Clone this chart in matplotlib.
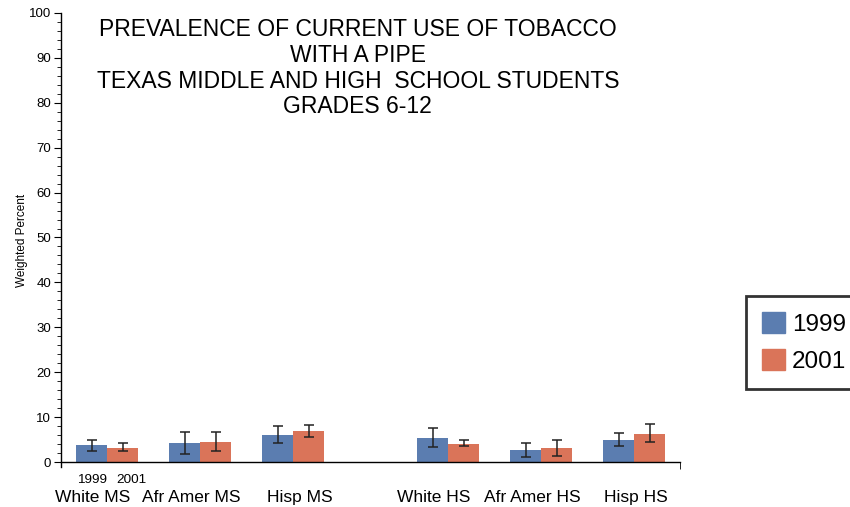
import matplotlib.pyplot as plt
from matplotlib.patches import Patch
import numpy as np

plt.rcParams['font.family'] = ['Liberation Sans', 'DejaVu Sans']

# データ
groups = ['White MS', 'Afr Amer MS', 'Hisp MS', 'White HS', 'Afr Amer HS', 'Hisp HS']
years = ['1999', '2001']
val_1999 = [3.8, 4.2, 6.0, 5.3, 2.7, 4.9]
lo_1999 = [2.5, 1.8, 4.3, 3.3, 1.1, 3.6]
hi_1999 = [5.0, 6.7, 8.1, 7.6, 4.2, 6.4]
val_2001 = [3.1, 4.5, 6.9, 4.1, 3.1, 6.3]
lo_2001 = [2.4, 2.4, 5.5, 3.5, 1.3, 4.5]
hi_2001 = [4.2, 6.7, 8.2, 4.9, 5.0, 8.4]

title = ('PREVALENCE OF CURRENT USE OF TOBACCO\nWITH A PIPE\n'
         'TEXAS MIDDLE AND HIGH  SCHOOL STUDENTS\nGRADES 6-12')

BLUE = '#5b7db0'
ORANGE = '#da7459'

# MSとHSの間を広げる
xpos = np.array([0, 1, 2, 3.667, 4.667, 5.667])
w = 0.333
# ラベルは棒の中心から少しずれている
label_shift = [-0.16, -0.09, 0.07, -0.16, -0.10, 0.02]

fig = plt.figure(figsize=(8.5, 5.07), dpi=100)
ax = fig.add_axes([0.0718, 0.0781, 0.8 - 0.0718, 0.9744 - 0.0781])

v1 = np.array(val_1999)
v2 = np.array(val_2001)
err1 = [v1 - np.array(lo_1999), np.array(hi_1999) - v1]
err2 = [v2 - np.array(lo_2001), np.array(hi_2001) - v2]

ekw = dict(ecolor='#222222', elinewidth=1.1, capthick=1.1)
ax.bar(xpos - w / 2, v1, w, color=BLUE, yerr=err1, capsize=3.5, error_kw=ekw)
ax.bar(xpos + w / 2, v2, w, color=ORANGE, yerr=err2, capsize=3.5, error_kw=ekw)

ax.set_ylim(-1.2, 100)
ax.set_xlim(-0.495, 6.16)
ax.spines['top'].set_visible(False)
ax.spines['right'].set_visible(False)
ax.spines['bottom'].set_position(('data', 0))
ax.spines['left'].set_linewidth(1.0)
ax.spines['bottom'].set_linewidth(1.0)

ax.set_yticks(np.arange(0, 101, 10))
ax.set_yticks(np.arange(0, 101, 2), minor=True)
ax.tick_params(axis='y', which='major', length=5, labelsize=9.5, pad=2)
ax.tick_params(axis='y', which='minor', length=3)

ax.set_xticks([])
ax.set_xticks([6.16], minor=True)
ax.tick_params(axis='x', which='minor', length=5, direction='out')

# グループ名と年のラベル
for x, s, g in zip(xpos, label_shift, groups):
    ax.text(x + s, -8.0, g, ha='center', va='center', fontsize=12.5)
for dx, y in zip([-w / 2, w / 2 + 0.09], years):
    ax.text(xpos[0] + dx, -4.0, y, ha='center', va='center', fontsize=9.7)

ax.set_ylabel('Weighted Percent', fontsize=8.5)
ax.yaxis.set_label_coords(-0.054, 0.5)

fig.text(0.421, 0.965, title, ha='center', va='top', fontsize=16.5,
         linespacing=1.16)

handles = [Patch(color=BLUE, label='1999'), Patch(color=ORANGE, label='2001')]
leg = fig.legend(handles=handles, loc='upper left',
                 bbox_to_anchor=(746 / 850, 1 - 296 / 507), fontsize=17.5,
                 handlelength=0.95, handleheight=0.95, handletextpad=0.3,
                 labelspacing=0.55, fancybox=False, borderpad=0.65,
                 borderaxespad=0)
leg.get_frame().set_edgecolor('black')
leg.get_frame().set_linewidth(2)

fig.savefig('out.png', dpi=100)
